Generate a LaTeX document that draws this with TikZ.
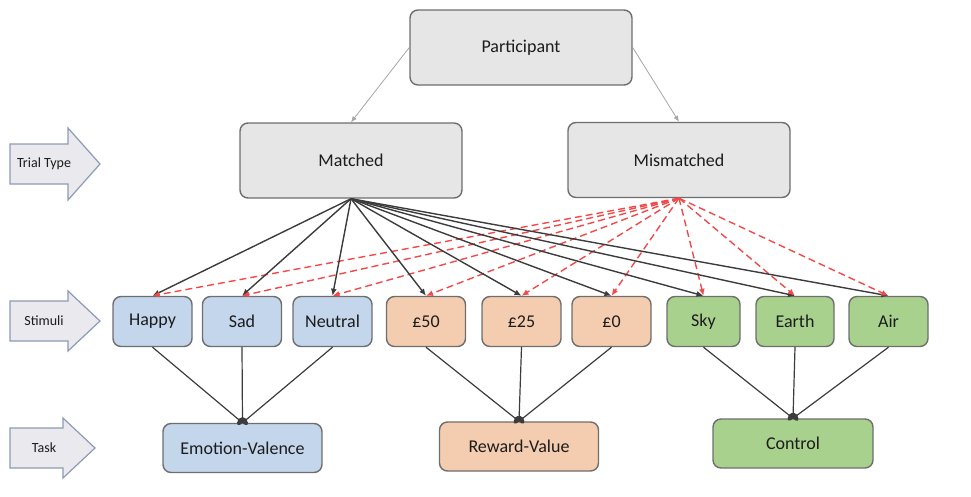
\documentclass[tikz,border=0pt]{standalone}
\usepackage{fontspec}
\setmainfont{Carlito}
\usetikzlibrary{arrows.meta}

\definecolor{boxgray}{HTML}{E6E6E6}
\definecolor{edgegray}{HTML}{6E6E6E}
\definecolor{bluefill}{HTML}{C4D6EC}
\definecolor{orangefill}{HTML}{F4CCAF}
\definecolor{greenfill}{HTML}{A9D18E}
\definecolor{textdark}{HTML}{1C1C1C}
\definecolor{linedark}{HTML}{3C3C3C}
\definecolor{dashred}{HTML}{F04A4A}
\definecolor{sidefill}{HTML}{E9E9EE}
\definecolor{sideedge}{HTML}{8E9AB6}

\tikzset{
  box/.style={draw=edgegray, line width=1.4pt, rounded corners=8pt, inner sep=0pt,
    text=textdark, font=\fontsize{18}{20}\selectfont},
  toprow/.style={box, fill=boxgray, minimum width=222pt, minimum height=75pt},
  stim/.style={box, minimum height=50pt},
  task/.style={box, minimum width=159pt, minimum height=49pt},
  toparrow/.style={draw=gray!70, line width=0.8pt, -{Latex[length=6pt,width=5pt]}},
  matchline/.style={draw=linedark, line width=1.4pt, -{Latex[length=7pt,width=6pt]}},
  mismatchline/.style={draw=dashred, line width=1.4pt, dash pattern=on 7pt off 4pt,
    -{Latex[length=7pt,width=6pt]}},
  taskline/.style={draw=linedark, line width=1.2pt, -{Circle[length=5pt,width=9pt]}},
  sidelabel/.style={text=textdark, font=\fontsize{14}{16}\selectfont},
}

\begin{document}
\begin{tikzpicture}[x=1pt,y=-1pt]
  \useasboundingbox (0,0) rectangle (971,496);

  % side arrows
  \foreach \n/\y/\h/\tip/\lab in {trial/164/36/100/Trial Type, stimuli/321/30/100/Stimuli, tasklab/448/30/95/Task}{
    \draw[fill=sidefill, draw=sideedge, line width=1.2pt]
      (10,{\y-20}) -- ({\tip-32},{\y-20}) -- ({\tip-32},{\y-\h}) -- (\tip,\y)
      -- ({\tip-32},{\y+\h}) -- ({\tip-32},{\y+20}) -- (10,{\y+20}) -- cycle;
    \node[sidelabel] (\n) at (44,\y) {\lab};
  }

  % trial type
  \node[toprow] (participant) at (521,47.5) {Participant};
  \node[toprow] (matched) at (351,160.5) {Matched};
  \node[toprow] (mismatched) at (679,160) {Mismatched};

  \draw[toparrow] (participant.west) -- (matched.north);
  \draw[toparrow] (participant.east) -- (mismatched.north);

  % stimuli
  \foreach \n/\x/\w/\c/\lab in {happy/152.5/79/bluefill/Happy, sad/242/79/bluefill/Sad,
      neutral/332.5/79/bluefill/Neutral, fifty/426/79/orangefill/£50,
      twentyfive/521.5/79/orangefill/£25, zero/611.5/79/orangefill/£0,
      sky/703.5/73/greenfill/Sky, earth/795/78/greenfill/Earth, air/888.5/79/greenfill/Air}{
    \node[stim, fill=\c, minimum width=\w pt] (\n) at (\x,321.5) {\lab};
  }

  % tasks
  \node[task, fill=bluefill] (emotion) at (242.5,448) {Emotion-Valence};
  \node[task, fill=orangefill] (reward) at (519,446.5) {Reward-Value};
  \node[task, fill=greenfill, minimum width=160pt] (control) at (793,443.5) {Control};

  \foreach \n in {happy,sad,neutral,fifty,twentyfive,zero,sky,earth,air}{
    \draw[matchline] (matched.south) -- (\n.north);
    \draw[mismatchline] (mismatched.south) -- (\n.north);
  }

  \foreach \s/\t in {happy/emotion, sad/emotion, neutral/emotion,
      fifty/reward, twentyfive/reward, zero/reward,
      sky/control, earth/control, air/control}{
    \draw[taskline] (\s.south) -- (\t.north);
  }
\end{tikzpicture}
\end{document}
